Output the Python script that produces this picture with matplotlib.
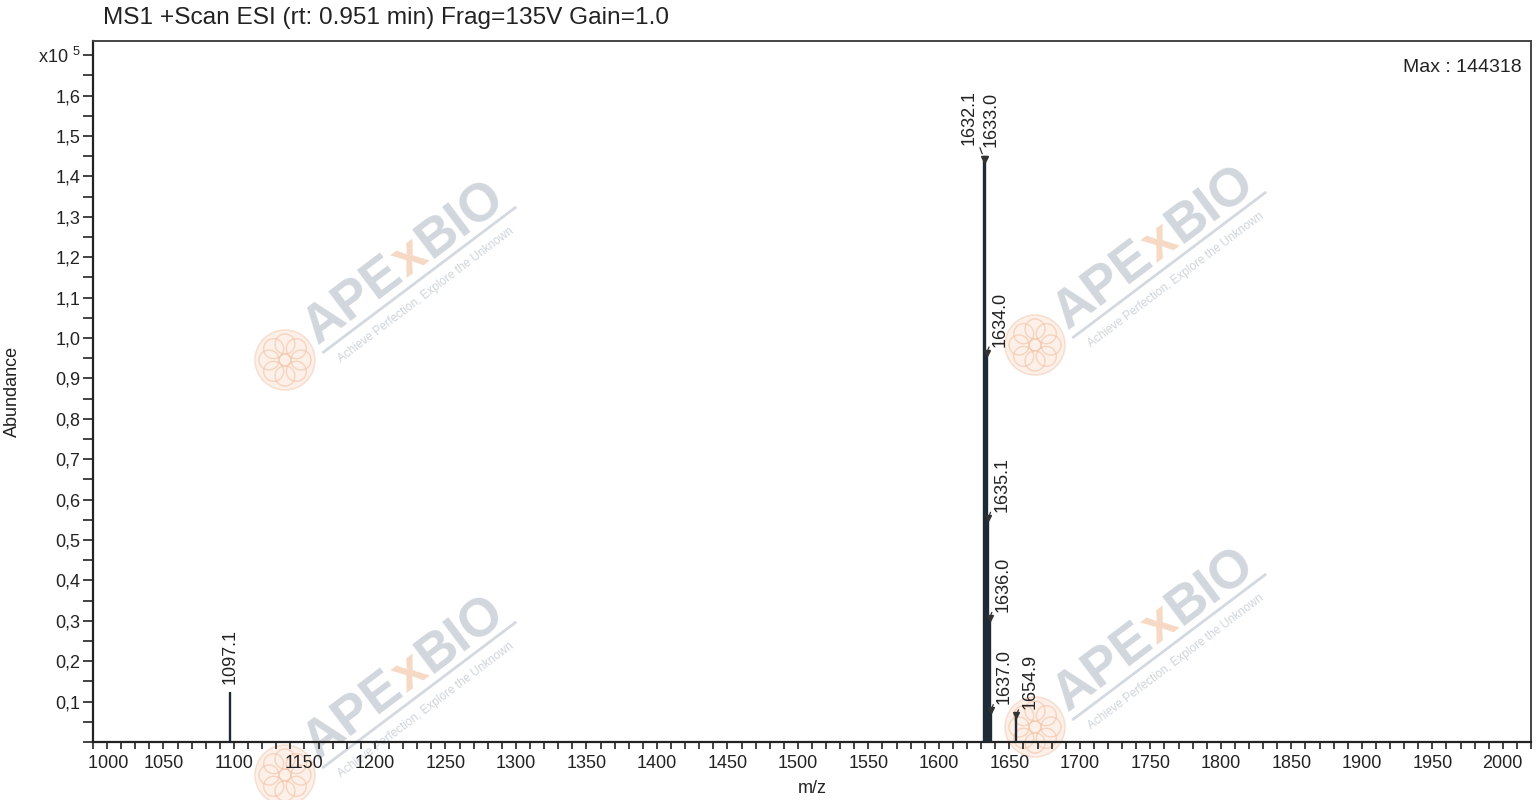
import matplotlib
matplotlib.use("Agg")
import matplotlib.pyplot as plt
from matplotlib.ticker import MultipleLocator, FuncFormatter
from matplotlib.patches import Circle
from matplotlib.lines import Line2D
import numpy as np

plt.rcParams['font.family'] = ['Liberation Sans', 'DejaVu Sans']
plt.rcParams['mathtext.default'] = 'regular'

# -------- Peak data (abundance in x10^5) --------
max_abundance = 144318
peak_mz = [1097.1, 1632.1, 1633.0, 1634.0, 1635.1, 1636.0, 1637.0, 1654.9]
peak_abund = [0.124, 1.443, max_abundance / 1e5, 0.964, 0.555, 0.307, 0.079, 0.066]
peak_labels = ["1097.1", "1632.1", "1633.0", "1634.0", "1635.1", "1636.0", "1637.0", "1654.9"]

title = "MS1 +Scan ESI (rt: 0.951 min) Frag=135V Gain=1.0"

# -------- Figure --------
fig = plt.figure(figsize=(15.36, 8), dpi=100)
ax = fig.add_axes([93 / 1536, 1 - 742 / 800, (1531 - 93) / 1536, (742 - 41) / 800])
ax.set_zorder(2)
ax.patch.set_alpha(0)   # let the watermark show through, under the peaks

line_col = "#1e2a36"
ax.vlines(peak_mz, 0, peak_abund, color=line_col, lw=1.7, zorder=3)

# small triangles on labelled peaks (not on the isolated 1097.1 peak)
tri_mz = [m for m in peak_mz if m > 1600]
tri_ab = [a for m, a in zip(peak_mz, peak_abund) if m > 1600]
ax.plot(tri_mz, tri_ab, ls="none", marker="v", ms=4, color="#333333", zorder=4)

for mz, ab, lab in zip(peak_mz, peak_abund, peak_labels):
    if mz < 1200:
        ax.annotate(lab, (mz, ab), xytext=(0, 8), textcoords="offset pixels",
                    rotation=90, ha="center", va="bottom", fontsize=13, color="#222222")
    elif lab == "1632.1":
        ax.annotate(lab, (mz, ab), xytext=(-24, 14), textcoords="offset pixels",
                    rotation=90, ha="left", va="bottom", fontsize=13, color="#222222",
                    arrowprops=dict(arrowstyle="-", color="#333333", lw=0.9,
                                    shrinkA=0, shrinkB=4))
    elif lab == "1633.0":
        ax.annotate(lab, (mz, ab), xytext=(-3, 12), textcoords="offset pixels",
                    rotation=90, ha="left", va="bottom", fontsize=13, color="#222222")
    else:
        ax.annotate(lab, (mz, ab), xytext=(5, 6), textcoords="offset pixels",
                    rotation=90, ha="left", va="bottom", fontsize=13, color="#222222",
                    arrowprops=dict(arrowstyle="-", color="#333333", lw=0.9,
                                    shrinkA=0, shrinkB=0))

# -------- Axes styling --------
ax.set_xlim(1000, 2020)
ax.set_ylim(0, 1.735)
ax.xaxis.set_major_locator(MultipleLocator(50))
ax.xaxis.set_minor_locator(MultipleLocator(10))
ax.yaxis.set_major_locator(MultipleLocator(0.1))
ax.yaxis.set_minor_locator(MultipleLocator(0.05))


def yfmt(v, pos):
    if abs(v) < 1e-6:
        return ""
    if abs(v - 1.7) < 1e-6:
        return "x10 $^{5}$"
    return f"{v:.1f}".replace(".", ",")


def xfmt(v, pos):
    if v > 2010:
        return ""
    if v < 1001:
        return "      " + f"{v:.0f}"   # first label sits inside the axis
    return f"{v:.0f}"


ax.yaxis.set_major_formatter(FuncFormatter(yfmt))
ax.xaxis.set_major_formatter(FuncFormatter(xfmt))

ax.tick_params(axis="x", which="both", direction="out", length=5, width=1.2,
               labelsize=13, colors="#222222", pad=4)
ax.tick_params(axis="y", which="both", direction="out", length=7, width=1.2,
               labelsize=13, colors="#222222", pad=2)
for s in ["left", "bottom"]:
    ax.spines[s].set_linewidth(1.6)
    ax.spines[s].set_color("#222222")
for s in ["top", "right"]:
    ax.spines[s].set_linewidth(1.4)
    ax.spines[s].set_color("#444444")

ax.set_xlabel("m/z", fontsize=13, color="#222222", labelpad=6)
ax.set_ylabel("Abundance", fontsize=13, color="#222222", labelpad=12)
fig.text(103 / 1536, 1 - 18 / 800, title, fontsize=17.6, color="#222222",
         ha="left", va="center")
ax.text(0.9935, 0.975, f"Max : {max_abundance}", transform=ax.transAxes,
        fontsize=14, color="#222222", ha="right", va="top")

# -------- Watermarks (behind the axes content) --------
ang = 37
ca, sa = np.cos(np.radians(ang)), np.sin(np.radians(ang))
em = 54  # px
gray = "#c9d0d7"
orange = "#f5d3bb"
for sx, sy in [(318, 345), (1068, 330), (318, 760), (1068, 712)]:
    x0, y0 = sx, 800 - sy
    parts = [("APE", gray, 0.0), ("x", orange, 2.06), ("BIO", gray, 2.62)]
    for txt, col, off in parts:
        fig.text((x0 + off * em * ca) / 1536, (y0 + off * em * sa) / 800, txt,
                 fontsize=38.5, fontweight="bold", color=col, alpha=0.85,
                 rotation=ang, rotation_mode="anchor", ha="left", va="baseline",
                 zorder=1)
    # underline bar
    lx0, ly0 = x0 + 9 * sa, y0 - 9 * ca
    fig.lines.append(Line2D([lx0, lx0 + 240 * ca], [ly0, ly0 + 240 * sa],
                            transform=None, color=gray, lw=2.0, alpha=0.8, zorder=1))
    fig.text((x0 + 10 + 13 * sa) / 1536, (y0 - 13 * ca) / 800,
             "Achieve Perfection, Explore the Unknown", fontsize=8.5,
             color=gray, alpha=0.9, rotation=ang, rotation_mode="anchor",
             ha="left", va="top", zorder=1)
    cx, cy = x0 - 33, y0 - 15
    fig.patches.append(Circle((cx, cy), 30, transform=None, fc="#fbe7da",
                              ec="#f4c9b0", lw=1.0, alpha=0.6, zorder=1))
    for k in range(8):
        t = k * np.pi / 4
        fig.patches.append(Circle((cx + 16 * np.cos(t), cy + 16 * np.sin(t)), 10,
                                  transform=None, fill=False, ec="#f2c1a4",
                                  lw=1.0, alpha=0.6, zorder=1))
    fig.patches.append(Circle((cx, cy), 6, transform=None, fill=False,
                              ec="#f2c1a4", lw=1.0, alpha=0.6, zorder=1))

fig.savefig("out.png", dpi=100)
